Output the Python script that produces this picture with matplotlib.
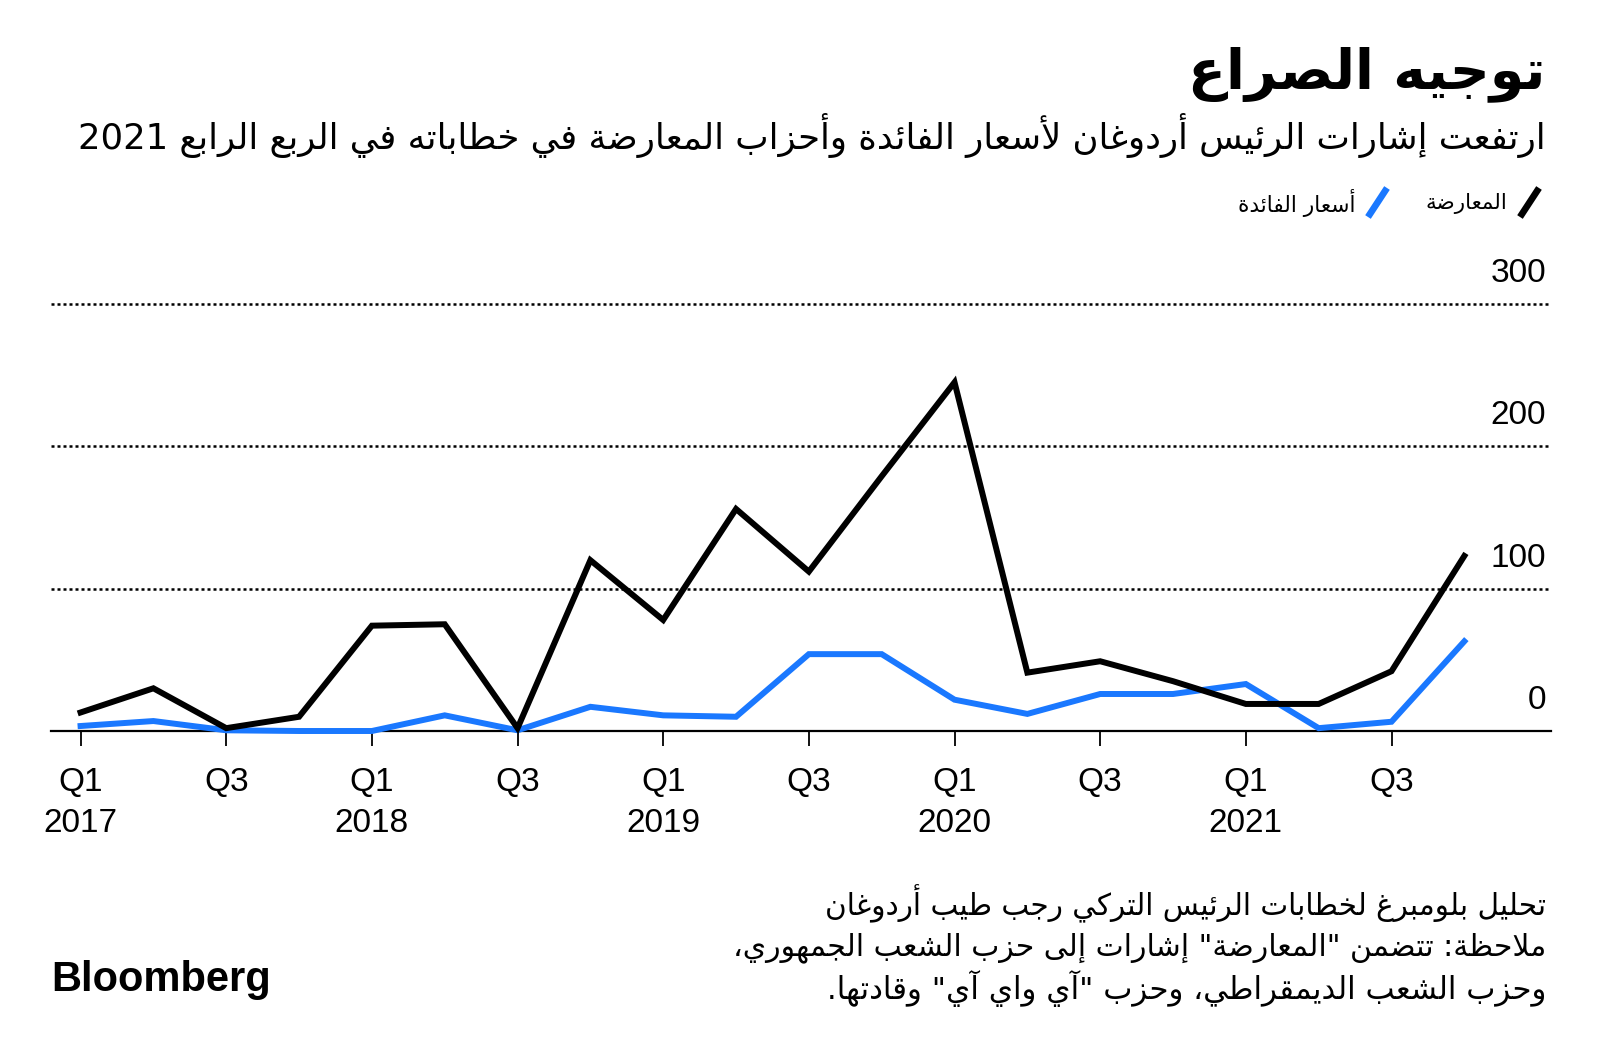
import re
import matplotlib
matplotlib.use("Agg")
import matplotlib.pyplot as plt
from matplotlib.lines import Line2D

# quarterly mentions, Q1 2017 .. Q4 2021
opposition = [13, 30, 2, 10, 74, 75, 2, 120, 78, 156, 112, 179,
              245, 41, 49, 35, 19, 19, 42, 123]
rates = [3.5, 7, 0.5, 0, 0, 11, 0.5, 17, 11, 10, 54, 54,
         22, 12, 26, 26, 33, 2, 6.5, 63]
tick_labels = ["Q1\n2017", "Q3", "Q1\n2018", "Q3", "Q1\n2019", "Q3",
               "Q1\n2020", "Q3", "Q1\n2021", "Q3"]
y_ticks = [0, 100, 200, 300]

title = "توجيه الصراع"
subtitle = "ارتفعت إشارات الرئيس أردوغان لأسعار الفائدة وأحزاب المعارضة في خطاباته في الربع الرابع 2021"
legend_names = ["المعارضة", "أسعار الفائدة"]
notes = [
    "تحليل بلومبرغ لخطابات الرئيس التركي رجب طيب أردوغان",
    "ملاحظة: تتضمن \"المعارضة\" إشارات إلى حزب الشعب الجمهوري،",
    "وحزب الشعب الديمقراطي، وحزب \"آي واي آي\" وقادتها.",
]

BLUE = "#1a78ff"
W, H = 1600, 1057

# matplotlib has no arabic shaping: map letters to presentation forms and
# put them in visual order ourselves
LETTERS = "ءآأؤإئابةتثجحخدذرزسشصضطظعغفقكلمنهوىي"
NFORMS = [1, 2, 2, 2, 2, 4, 2, 4, 2, 4, 4, 4, 4, 4, 2, 2, 2, 2, 4, 4,
          4, 4, 4, 4, 4, 4, 4, 4, 4, 4, 4, 4, 4, 2, 2, 4]
FORMS = {}
code = 0xFE80
for ch, n in zip(LETTERS, NFORMS):
    FORMS[ch] = [chr(code + i) for i in range(n)]
    code += n
LAM_ALEF = {"آ": 0xFEF5, "أ": 0xFEF7, "إ": 0xFEF9, "ا": 0xFEFB}


def joins_left(c):
    return c in FORMS and len(FORMS[c]) == 4


def joins_right(c):
    return c in FORMS and len(FORMS[c]) >= 2


def ar(text):
    out = []
    prev = None
    i = 0
    while i < len(text):
        c = text[i]
        if c not in FORMS:
            out.append(c)
            prev = None
            i += 1
            continue
        link_prev = prev is not None and joins_left(prev) and joins_right(c)
        if c == "ل" and i + 1 < len(text) and text[i + 1] in LAM_ALEF:
            out.append(chr(LAM_ALEF[text[i + 1]] + (1 if link_prev else 0)))
            prev = text[i + 1]
            i += 2
            continue
        nxt = text[i + 1] if i + 1 < len(text) else None
        link_next = joins_left(c) and nxt is not None and joins_right(nxt)
        forms = FORMS[c]
        if len(forms) == 1:
            f = forms[0]
        elif link_prev and link_next:
            f = forms[3]
        elif link_prev:
            f = forms[1]
        elif link_next:
            f = forms[2]
        else:
            f = forms[0]
        out.append(f)
        prev = c
        i += 1
    vis = "".join(out)[::-1]
    return re.sub(r"[0-9A-Za-z]+", lambda m: m.group()[::-1], vis)


def px(x, y):
    return x / W, 1 - y / H


fig = plt.figure(figsize=(W / 100, H / 100), dpi=100)
renderer = fig.canvas.get_renderer()


def fit(t, width):
    w = t.get_window_extent(renderer).width
    t.set_fontsize(t.get_fontsize() * width / w)


ARFONT = ["DejaVu Sans"]
NUMFONT = ["Liberation Sans", "DejaVu Sans"]

t = fig.text(*px(1546, 74), ar(title), ha="right", va="center",
             fontsize=40, fontweight="bold", family=ARFONT)
fit(t, 357)
t = fig.text(*px(1546, 136), ar(subtitle), ha="right", va="center",
             fontsize=22, family=ARFONT)
fit(t, 1467)

# legend
for (x0, name, color, tx, tw) in [(1520, legend_names[0], "black", 1507, 82),
                                  (1368, legend_names[1], BLUE, 1355, 118)]:
    fig.add_artist(Line2D([x0 / W, (x0 + 19) / W], [1 - 217 / H, 1 - 188 / H],
                          color=color, lw=4.8, solid_capstyle="butt"))
    t = fig.text(*px(tx, 203), ar(name), ha="right", va="center",
                 fontsize=13, family=ARFONT)
    fit(t, tw)

ax = fig.add_axes([51 / W, 1 - 731 / H, 1500 / W, 427 / H])
x = list(range(len(opposition)))
ax.plot(x, rates, color=BLUE, lw=4.3, solid_joinstyle="miter", clip_on=False, zorder=3)
ax.plot(x, opposition, color="black", lw=4.3, solid_joinstyle="miter", clip_on=False, zorder=4)

ax.set_xlim(-0.406, 20.19)
ax.set_ylim(0, 300)
for v in y_ticks[1:]:
    ax.axhline(v, color="black", lw=1.8, linestyle=(0, (1.2, 1.2)), clip_on=False)
for v in y_ticks:
    ax.annotate(str(v), xy=(1, v), xycoords=("axes fraction", "data"),
                xytext=(-5, 22), textcoords="offset pixels", ha="right",
                va="baseline", fontsize=24, family=NUMFONT)

for s in ["top", "left", "right"]:
    ax.spines[s].set_visible(False)
ax.spines["bottom"].set_linewidth(1.6)
ax.set_yticks([])
ax.set_xticks(range(0, 20, 2))
ax.set_xticklabels(tick_labels, fontsize=24, family=NUMFONT, linespacing=1.4)
ax.tick_params(axis="x", length=11, width=1.3, pad=15, color="black")

# notes and logo
for y, line, w in zip([904, 948, 988], notes, [721, 813, 721]):
    t = fig.text(*px(1546, y), ar(line), ha="right", va="center",
                 fontsize=18, family=ARFONT)
    fit(t, w)

t = fig.text(*px(51, 980), "Bloomberg", ha="left", va="center",
             fontsize=28, fontweight="bold", family=NUMFONT)
fit(t, 220)

fig.savefig("out.png", dpi=100)
